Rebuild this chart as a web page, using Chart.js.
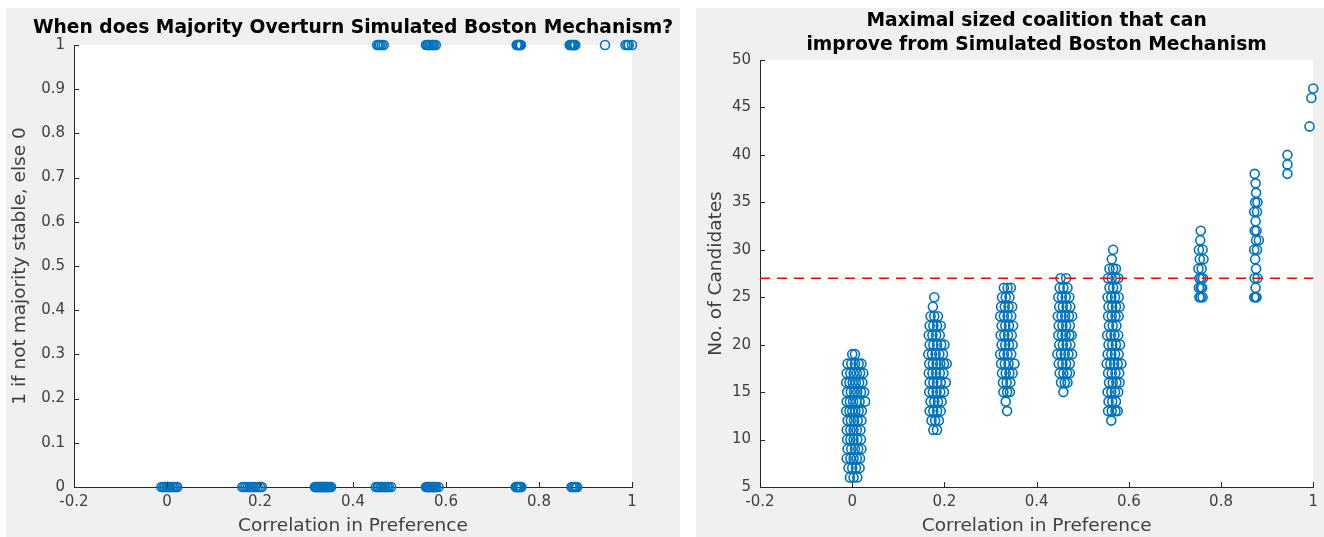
<!DOCTYPE html>
<html>
<head>
<meta charset="utf-8">
<script src="https://cdn.jsdelivr.net/npm/chart.js@4.4.1/dist/chart.umd.min.js"></script>
<style>
    body { margin: 0; background: #ffffff; width: 1324px; height: 537px; position: relative; overflow: hidden; }
    .panel { position: absolute; top: 8px; height: 529px; background: #f0f0f0; }
    #leftPanel { left: 6px; width: 674px; }
    #rightPanel { left: 696px; width: 628px; }
</style>
</head>
<body>
<div class="panel" id="leftPanel"><canvas id="overturnChart" width="674" height="529"></canvas></div>
<div class="panel" id="rightPanel"><canvas id="coalitionChart" width="628" height="529"></canvas></div>
<script>
// Left chart: correlation of each simulation and whether majority overturns (1) or not (0)
const stableCorr = [
    -0.012, -0.008, -0.005, -0.001, 0.002, 0.005, 0.008, 0.012, 0.015, 0.019, 0.022,
    0.162, 0.166, 0.170, 0.174, 0.178, 0.182, 0.186, 0.190, 0.195, 0.200, 0.204,
    0.318, 0.320, 0.322, 0.324, 0.326, 0.328, 0.330, 0.332, 0.334, 0.336, 0.338,
    0.340, 0.342, 0.344, 0.346, 0.348, 0.350, 0.353,
    0.449, 0.453, 0.456, 0.460, 0.463, 0.467, 0.470, 0.474, 0.477, 0.482,
    0.557, 0.559, 0.561, 0.563, 0.565, 0.568, 0.570, 0.572, 0.574, 0.577, 0.579, 0.584,
    0.750, 0.752, 0.754, 0.756, 0.758, 0.760, 0.762,
    0.870, 0.873, 0.876, 0.879, 0.882
];
const overturnCorr = [
    0.452, 0.455, 0.458, 0.462, 0.466,
    0.557, 0.560, 0.562, 0.565, 0.568, 0.571, 0.574, 0.578,
    0.752, 0.754, 0.755, 0.757, 0.758, 0.760, 0.761,
    0.866, 0.868, 0.870, 0.872, 0.874, 0.876, 0.878,
    0.942,
    0.986, 0.990, 0.993, 1.000
];
const stableFlag = stableCorr.map(() => 0);
const overturnFlag = overturnCorr.map(() => 1);

// Right chart: correlation of each simulation and the maximal coalition size, by cluster
const corrNear0 = [
    0.000, 0.006,
    -0.010, -0.002, 0.006, 0.014, 0.020,
    -0.012, -0.004, 0.003, 0.010, 0.017, 0.024,
    -0.013, -0.006, 0.001, 0.008, 0.015, 0.022,
    -0.011, -0.003, 0.004, 0.011, 0.019, 0.026,
    -0.012, -0.005, 0.002, 0.009, 0.016, 0.028,
    -0.013, -0.006, 0.000, 0.007, 0.014, 0.021,
    -0.010, -0.003, 0.004, 0.012, 0.020,
    -0.012, -0.004, 0.003, 0.010, 0.018,
    -0.011, -0.004, 0.003, 0.011, 0.019,
    -0.010, -0.002, 0.006, 0.013, 0.020,
    -0.012, -0.004, 0.003, 0.010, 0.017,
    -0.008, 0.000, 0.008, 0.016,
    -0.005, 0.003, 0.011
];
const sizeNear0 = [
    19, 19,
    18, 18, 18, 18, 18,
    17, 17, 17, 17, 17, 17,
    16, 16, 16, 16, 16, 16,
    15, 15, 15, 15, 15, 15,
    14, 14, 14, 14, 14, 14,
    13, 13, 13, 13, 13, 13,
    12, 12, 12, 12, 12,
    11, 11, 11, 11, 11,
    10, 10, 10, 10, 10,
    9, 9, 9, 9, 9,
    8, 8, 8, 8, 8,
    7, 7, 7, 7,
    6, 6, 6
];

const corrNear18 = [
    0.178,
    0.175,
    0.170, 0.178, 0.186,
    0.168, 0.176, 0.184, 0.192,
    0.166, 0.174, 0.182, 0.190,
    0.168, 0.176, 0.184, 0.193, 0.200,
    0.165, 0.173, 0.181, 0.189, 0.197,
    0.167, 0.175, 0.183, 0.191, 0.199, 0.205,
    0.166, 0.174, 0.182, 0.190, 0.198,
    0.168, 0.176, 0.184, 0.192, 0.203,
    0.167, 0.175, 0.183, 0.191, 0.199,
    0.170, 0.178, 0.186, 0.194,
    0.168, 0.176, 0.184, 0.192,
    0.172, 0.180, 0.188,
    0.176, 0.184
];
const sizeNear18 = [
    25,
    24,
    23, 23, 23,
    22, 22, 22, 22,
    21, 21, 21, 21,
    20, 20, 20, 20, 20,
    19, 19, 19, 19, 19,
    18, 18, 18, 18, 18, 18,
    17, 17, 17, 17, 17,
    16, 16, 16, 16, 16,
    15, 15, 15, 15, 15,
    14, 14, 14, 14,
    13, 13, 13, 13,
    12, 12, 12,
    11, 11
];

const corrNear33 = [
    0.329, 0.337, 0.344,
    0.325, 0.333, 0.341,
    0.323, 0.331, 0.339, 0.347,
    0.321, 0.329, 0.337, 0.345,
    0.324, 0.332, 0.340, 0.349,
    0.322, 0.330, 0.338, 0.346,
    0.324, 0.332, 0.340, 0.348,
    0.321, 0.329, 0.337, 0.345,
    0.323, 0.331, 0.339, 0.352,
    0.325, 0.333, 0.341, 0.348,
    0.327, 0.335, 0.343,
    0.328, 0.336, 0.342,
    0.333,
    0.336
];
const sizeNear33 = [
    26, 26, 26,
    25, 25, 25,
    24, 24, 24, 24,
    23, 23, 23, 23,
    22, 22, 22, 22,
    21, 21, 21, 21,
    20, 20, 20, 20,
    19, 19, 19, 19,
    18, 18, 18, 18,
    17, 17, 17, 17,
    16, 16, 16,
    15, 15, 15,
    14,
    13
];

const corrNear46 = [
    0.452, 0.464,
    0.450, 0.458, 0.467,
    0.447, 0.455, 0.463, 0.471,
    0.449, 0.457, 0.465, 0.473,
    0.446, 0.454, 0.462, 0.470, 0.477,
    0.448, 0.456, 0.464, 0.472,
    0.447, 0.455, 0.463, 0.471, 0.476,
    0.449, 0.457, 0.465, 0.473,
    0.445, 0.453, 0.461, 0.469, 0.477,
    0.448, 0.456, 0.464, 0.472,
    0.450, 0.458, 0.466, 0.472,
    0.453, 0.461, 0.467,
    0.458
];
const sizeNear46 = [
    27, 27,
    26, 26, 26,
    25, 25, 25, 25,
    24, 24, 24, 24,
    23, 23, 23, 23, 23,
    22, 22, 22, 22,
    21, 21, 21, 21, 21,
    20, 20, 20, 20,
    19, 19, 19, 19, 19,
    18, 18, 18, 18,
    17, 17, 17, 17,
    16, 16, 16,
    15
];

const corrNear57 = [
    0.566,
    0.563,
    0.558, 0.566, 0.572,
    0.555, 0.563, 0.571, 0.577,
    0.558, 0.566, 0.574,
    0.554, 0.562, 0.570, 0.578,
    0.556, 0.564, 0.572, 0.580,
    0.555, 0.563, 0.571, 0.578,
    0.557, 0.565, 0.573,
    0.553, 0.561, 0.569, 0.577,
    0.556, 0.564, 0.572, 0.581,
    0.554, 0.562, 0.570, 0.578,
    0.552, 0.560, 0.568, 0.576, 0.584,
    0.555, 0.563, 0.571, 0.579,
    0.557, 0.565, 0.573, 0.580,
    0.554, 0.562, 0.570, 0.577,
    0.556, 0.564, 0.572,
    0.555, 0.563, 0.571, 0.576,
    0.562
];
const sizeNear57 = [
    30,
    29,
    28, 28, 28,
    27, 27, 27, 27,
    26, 26, 26,
    25, 25, 25, 25,
    24, 24, 24, 24,
    23, 23, 23, 23,
    22, 22, 22,
    21, 21, 21, 21,
    20, 20, 20, 20,
    19, 19, 19, 19,
    18, 18, 18, 18, 18,
    17, 17, 17, 17,
    16, 16, 16, 16,
    15, 15, 15, 15,
    14, 14, 14,
    13, 13, 13, 13,
    12
];

const corrNear75 = [
    0.756,
    0.755,
    0.752, 0.760,
    0.754, 0.762,
    0.751, 0.758,
    0.753, 0.757, 0.761,
    0.752, 0.756, 0.759,
    0.753, 0.756, 0.760
];
const sizeNear75 = [
    32,
    31,
    30, 30,
    29, 29,
    28, 28,
    27, 27, 27,
    26, 26, 26,
    25, 25, 25
];

const corrNear87 = [
    0.873, 0.875, 0.876,
    0.874, 0.879,
    0.872, 0.878,
    0.875,
    0.873, 0.877,
    0.876, 0.882,
    0.872, 0.878,
    0.874, 0.876,
    0.873, 0.879,
    0.875,
    0.872, 0.875, 0.877
];
const sizeNear87 = [
    38, 37, 36,
    35, 35,
    34, 34,
    33,
    32, 32,
    31, 31,
    30, 30,
    29, 28,
    27, 27,
    26,
    25, 25, 25
];

const corrTop = [0.944, 0.944, 0.944, 0.992, 0.996, 1.000];
const sizeTop = [38, 39, 40, 43, 46, 47];

// Reference line for the right chart
const thresholdCorr = [-0.2, 1];
const thresholdSize = [27, 27];

const leftTitle = ['When does Majority Overturn Simulated Boston Mechanism?'];
const rightTitle = ['Maximal sized coalition that can', 'improve from Simulated Boston Mechanism'];
const xTitle = 'Correlation in Preference';
const markerBlue = '#0072BD';
const axisColor = '#262626';

/**
 * Pair two value arrays into {x, y} points
 */
function toPoints(xs, ys) {
    return xs.map((x, i) => ({ x: x, y: ys[i] }));
}

/**
 * White plot background plus MATLAB style inward tick marks
 */
const matlabAxes = {
    id: 'matlabAxes',
    beforeDraw(chart) {
        const a = chart.chartArea;
        const ctx = chart.ctx;
        ctx.save();
        ctx.fillStyle = '#ffffff';
        ctx.fillRect(a.left, a.top, a.right - a.left, a.bottom - a.top);
        ctx.restore();
    },
    afterDraw(chart) {
        const a = chart.chartArea;
        const ctx = chart.ctx;
        const xs = chart.scales.x;
        const ys = chart.scales.y;
        ctx.save();
        ctx.strokeStyle = axisColor;
        ctx.lineWidth = 1;
        ctx.beginPath();
        xs.ticks.forEach(t => {
            const px = Math.round(xs.getPixelForValue(t.value)) + 0.5;
            ctx.moveTo(px, a.bottom);
            ctx.lineTo(px, a.bottom - 5);
        });
        ys.ticks.forEach(t => {
            const py = Math.round(ys.getPixelForValue(t.value)) + 0.5;
            ctx.moveTo(a.left, py);
            ctx.lineTo(a.left + 5, py);
        });
        ctx.stroke();

        // axes title, centred over the plot area like MATLAB does
        const opts = chart.options.plugins.matlabAxes;
        ctx.fillStyle = '#000000';
        ctx.font = 'bold 18.7px "DejaVu Sans"';
        ctx.textAlign = 'center';
        ctx.textBaseline = 'middle';
        const cx = (a.left + a.right) / 2;
        opts.lines.forEach((line, i) => {
            ctx.fillText(line, cx, opts.firstY + i * opts.lineGap);
        });
        ctx.restore();
    }
};

Chart.defaults.font.family = 'DejaVu Sans';
Chart.defaults.color = '#404040';

// MATLAB prints 1 and 0 without a trailing ".0"
const tickLabel = v => String(Math.round(v * 10) / 10);

/**
 * Shared options for both MATLAB style scatter plots
 */
function buildOptions(cfg) {
    return {
        responsive: false,
        animation: false,
        layout: { padding: { left: 0, right: cfg.padRight, top: cfg.padTop, bottom: 0 } },
        scales: {
            x: {
                type: 'linear',
                min: -0.2,
                max: 1,
                ticks: { stepSize: 0.2, padding: 6, font: { size: 15 }, color: '#404040', callback: tickLabel },
                grid: { display: false, drawTicks: false },
                border: { display: true, color: axisColor, width: 1 },
                title: { display: true, text: xTitle, font: { size: 18.5 }, color: '#404040', padding: { top: 0, bottom: 0 } },
                afterFit: s => { s.height = 50; }
            },
            y: {
                type: 'linear',
                min: cfg.yMin,
                max: cfg.yMax,
                ticks: { stepSize: cfg.yStep, padding: 9, font: { size: 15 }, color: '#404040', callback: tickLabel },
                grid: { display: false, drawTicks: false },
                border: { display: true, color: axisColor, width: 1 },
                title: { display: true, text: cfg.yTitle, font: { size: 18.5 }, color: '#404040', padding: { top: cfg.yTitlePad, bottom: 0 } },
                afterFit: s => { s.width = cfg.yWidth; }
            }
        },
        plugins: {
            legend: { display: false },
            tooltip: { enabled: false },
            title: { display: false },
            matlabAxes: { lines: cfg.title, firstY: cfg.titleY, lineGap: 24 }
        }
    };
}

const markerStyle = {
    pointStyle: 'circle',
    pointRadius: 4.5,
    pointBorderWidth: 1.6,
    pointBorderColor: markerBlue,
    pointBackgroundColor: 'rgba(0,0,0,0)',
    clip: false
};

// Left chart
new Chart(document.getElementById('overturnChart'), {
    type: 'scatter',
    data: {
        datasets: [{
            data: toPoints(stableCorr, stableFlag).concat(toPoints(overturnCorr, overturnFlag)),
            ...markerStyle
        }]
    },
    options: buildOptions({
        padRight: 48,
        padTop: 37,
        yMin: 0,
        yMax: 1,
        yStep: 0.1,
        yTitle: '1 if not majority stable, else 0',
        yTitlePad: 3,
        yWidth: 68,
        title: leftTitle,
        titleY: 20
    }),
    plugins: [matlabAxes]
});

// Right chart
const coalitionPoints = [].concat(
    toPoints(corrNear0, sizeNear0),
    toPoints(corrNear18, sizeNear18),
    toPoints(corrNear33, sizeNear33),
    toPoints(corrNear46, sizeNear46),
    toPoints(corrNear57, sizeNear57),
    toPoints(corrNear75, sizeNear75),
    toPoints(corrNear87, sizeNear87),
    toPoints(corrTop, sizeTop)
);

new Chart(document.getElementById('coalitionChart'), {
    type: 'scatter',
    data: {
        datasets: [
            {
                data: toPoints(thresholdCorr, thresholdSize),
                showLine: true,
                pointRadius: 0,
                borderColor: '#ff0000',
                borderWidth: 1.5,
                borderDash: [10, 7],
                clip: false
            },
            {
                data: coalitionPoints,
                ...markerStyle
            }
        ]
    },
    options: buildOptions({
        padRight: 9,
        padTop: 52,
        yMin: 5,
        yMax: 50,
        yStep: 5,
        yTitle: 'No. of Candidates',
        yTitlePad: 9,
        yWidth: 64,
        title: rightTitle,
        titleY: 13
    }),
    plugins: [matlabAxes]
});
</script>
</body>
</html>
